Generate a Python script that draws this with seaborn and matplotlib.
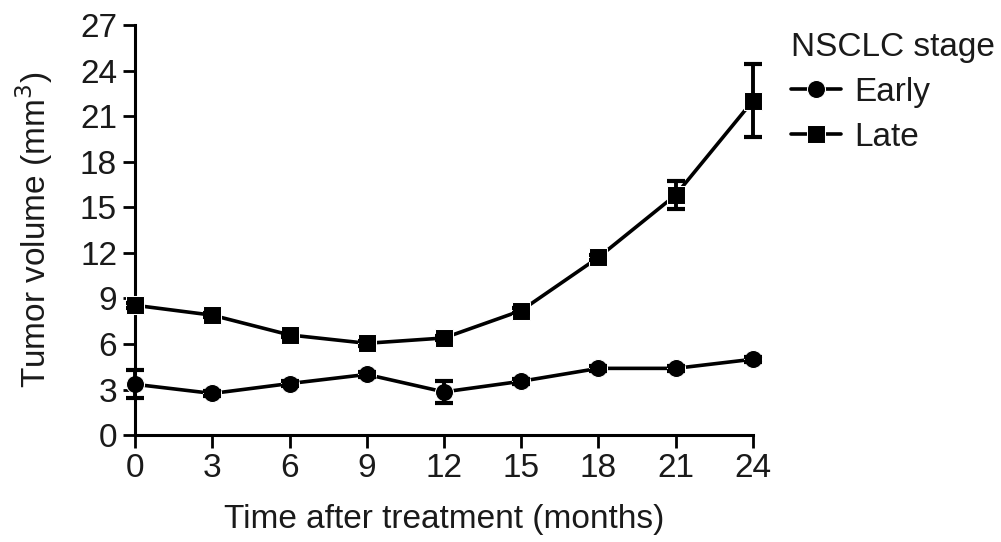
import numpy as np
import pandas as pd
import matplotlib
matplotlib.use("Agg")
import matplotlib.pyplot as plt
import seaborn as sns

months = [0, 3, 6, 9, 12, 15, 18, 21, 24]
early_mean = [3.35, 2.75, 3.4, 4.0, 2.85, 3.55, 4.4, 4.4, 5.0]
early_sd = [0.92, 0.15, 0.15, 0.15, 0.72, 0.15, 0.15, 0.15, 0.15]
late_mean = [8.55, 7.9, 6.6, 6.05, 6.4, 8.2, 11.7, 15.8, 22.0]
late_sd = [0.15, 0.15, 0.15, 0.15, 0.15, 0.15, 0.15, 0.9, 2.4]
stages = ["Early", "Late"]
y_ticks = [0, 3, 6, 9, 12, 15, 18, 21, 24, 27]

df = pd.DataFrame({
    "month": months * 2,
    "volume": early_mean + late_mean,
    "sd": early_sd + late_sd,
    "stage": ["Early"] * len(months) + ["Late"] * len(months),
})

sns.set_style("ticks")
plt.rcParams["font.family"] = ["Liberation Sans", "DejaVu Sans"]
plt.rcParams["text.color"] = "#1a1a1a"
plt.rcParams["axes.labelcolor"] = "#1a1a1a"

fig = plt.figure(figsize=(10.01, 5.42), dpi=100)
ax = fig.add_axes([0.135, 0.197, 0.617, 0.757])

sns.lineplot(data=df, x="month", y="volume", style="stage", markers={"Early": "o", "Late": "s"},
             dashes=False, color="black", linewidth=2.6, markersize=13, ax=ax,
             clip_on=False, zorder=3)

for st in stages:
    sub = df[df["stage"] == st]
    ax.errorbar(sub["month"], sub["volume"], yerr=sub["sd"], fmt="none", ecolor="black",
                elinewidth=2.8, capsize=6.5, capthick=3, clip_on=False, zorder=4)

ax.set_xlim(0, 24)
ax.set_ylim(0, 27)
ax.set_xticks(months)
ax.set_yticks(y_ticks)
ax.tick_params(axis="both", labelsize=24, width=2, length=9, pad=4, color="black", labelcolor="#1a1a1a")
for s in ["left", "bottom"]:
    ax.spines[s].set_linewidth(2.2)
    ax.spines[s].set_color("black")
sns.despine(ax=ax)

ax.set_xlabel("Time after treatment (months)", fontsize=24, labelpad=14)
ax.set_ylabel("Tumor volume (mm$^3$)", fontsize=24, labelpad=18)

leg = ax.legend(title="NSCLC stage", loc="upper left", bbox_to_anchor=(1.04, 1.015),
                frameon=False, fontsize=24, title_fontsize=24, handlelength=1.5,
                handletextpad=0.4, labelspacing=0.42, borderaxespad=0)
leg._legend_box.align = "left"

fig.savefig("out.png", dpi=100)
